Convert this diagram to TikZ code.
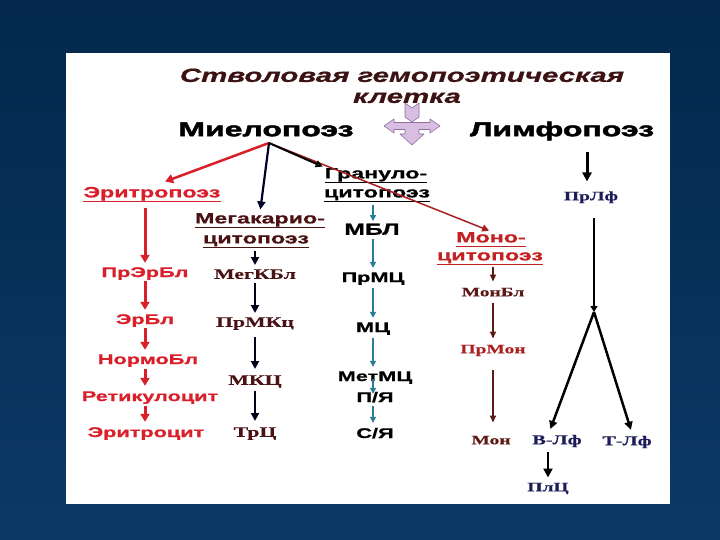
\documentclass[tikz,border=0pt]{standalone}
\usepackage{fontspec}
\setmainfont{Liberation Sans}
\newfontfamily\fhead[FakeStretch=1.6,FakeBold=2.2]{Liberation Sans}
\newfontfamily\fsans[FakeStretch=1.55,FakeBold=0.8]{Liberation Sans}
\newfontfamily\fserif[FakeStretch=1.5,FakeBold=0.5]{Liberation Serif}
\usetikzlibrary{arrows.meta}
\definecolor{bgtop}{HTML}{03284C}
\definecolor{bgbot}{HTML}{0B3966}
\definecolor{titlec}{HTML}{3D1212}
\definecolor{redc}{HTML}{D81F2A}
\definecolor{marc}{HTML}{4A1212}
\definecolor{tealc}{HTML}{2B7D96}
\definecolor{monoc}{HTML}{C42222}
\definecolor{monod}{HTML}{5C1A14}
\definecolor{monor}{HTML}{A82020}
\definecolor{navyc}{HTML}{1C1C58}
\definecolor{symfill}{HTML}{D8BFE2}
\definecolor{symline}{HTML}{8F6FA0}
\definecolor{greenc}{HTML}{1E6B2A}
\begin{document}
\begin{tikzpicture}[x=1pt,y=-1pt,
  lab/.style={inner sep=0pt, text depth=0pt},
  title/.style={lab, font=\fsans\bfseries\itshape\fontsize{19}{19}\selectfont, text height=13.7pt, text=titlec},
  head/.style={lab, font=\fhead\bfseries\fontsize{20}{20}\selectfont, text height=14.4pt},
  sub/.style={lab, font=\fsans\bfseries\fontsize{15}{15}\selectfont, text height=10.8pt},
  item/.style={lab, font=\fsans\bfseries\fontsize{14}{14}\selectfont, text height=10pt},
  bitem/.style={lab, font=\fsans\bfseries\fontsize{16}{16}\selectfont, text height=11.5pt},
  sitem/.style={lab, font=\fserif\bfseries\fontsize{14.5}{14.5}\selectfont, text height=9.6pt},
  litem/.style={lab, font=\fserif\bfseries\fontsize{13}{13}\selectfont, text height=8.6pt},
  ul/.style={append after command={([yshift=-4pt]\tikzlastnode.south west) edge[draw=#1, line width=1.4pt, -] ([yshift=-4pt]\tikzlastnode.south east)}},
  redarr/.style={draw=redc, line width=3pt, -{Triangle[width=9pt,length=8pt]}, shorten <=4pt, shorten >=4pt},
  megarr/.style={draw=black!90!blue, line width=2.5pt, -{Triangle[width=8pt,length=8pt]}, shorten <=4pt, shorten >=4pt},
  tealarr/.style={draw=tealc, line width=1.5pt, -{Triangle[width=6pt,length=6pt]}, shorten <=4pt, shorten >=4pt},
  monarr/.style={draw=monod, line width=1.5pt, -{Triangle[width=6pt,length=7pt]}, shorten <=4pt, shorten >=4pt},
  lymarr/.style={draw=black, line width=3pt, -{Triangle[width=9pt,length=9pt]}},
  sym/.style={fill=symfill, draw=symline, line width=0.6pt, line join=round}
]
\useasboundingbox (0,0) rectangle (720,540);
\shade[top color=bgtop, bottom color=bgbot] (0,0) rectangle (720,540);
\fill[white] (66,53) rectangle (670,504);

% title and headings
\node[title] (t1) at (402,75) {Стволовая гемопоэтическая};
\node[title] (t2) at (407,96) {клетка};
\node[head] (mie) at (266,129) {Миелопоэз};
\node[head] (lim) at (562,129) {Лимфопоэз};

% central symbol
\filldraw[sym] (405,103) -- (412,108) -- (419,103) -- (419,117) -- (412,122) -- (405,117) -- cycle;
\filldraw[sym] (384,126) -- (394,119) -- (394,122.5) -- (430,122.5) -- (430,119) -- (440,126)
  -- (430,133) -- (430,129.5) -- (419,129.5) -- (419,134) -- (424,134) -- (412,145)
  -- (400,134) -- (405,134) -- (405,129.5) -- (394,129.5) -- (394,133) -- cycle;

\coordinate (apex) at (269,143);

% sub-headings
\node[sub, text=redc, ul=redc] (ery) at (152,192) {Эритропоэз};
\node[sub, text=black, ul=black] (g1) at (376,173) {Грануло-};
\node[sub, text=black, ul=black] (g2) at (377,192) {цитопоэз};
\node[sub, text=marc, ul=marc] (meg1) at (260,218) {Мегакарио-};
\node[sub, text=marc, ul=marc] (meg2) at (256,238) {цитопоэз};
\node[sub, text=monoc, ul=monoc] (mo1) at (491,237) {Моно-};
\node[sub, text=monoc, ul=monoc] (mo2) at (490,255) {цитопоэз};

% branch connectors from myelopoiesis
\draw[draw=monor, line width=1.5pt, -{Triangle[width=7pt,length=7pt]}, shorten >=2pt] (apex) -- (mo1.north);
\draw[draw=redc, line width=2.5pt, -{Triangle[width=9pt,length=8pt]}, shorten >=14pt] (apex) -- (ery.north);
\draw[draw=black!85!blue, line width=2.2pt, -{Triangle[width=8pt,length=8pt]}, shorten >=3pt] (apex) -- (meg1.north);
\draw[draw=black, line width=2pt, -{Triangle[width=7pt,length=7pt,fill=greenc]}, shorten >=2pt] (apex) -- (g1.north west);

% erythropoiesis column
\node[item, text=redc] (e1) at (145,272) {ПрЭрБл};
\node[item, text=redc] (e2) at (145,319) {ЭрБл};
\node[item, text=redc] (e3) at (148,359) {НормоБл};
\node[item, text=redc] (e4) at (150,396) {Ретикулоцит};
\node[item, text=redc] (e5) at (146,432) {Эритроцит};
\draw[redarr, shorten <=10pt] (ery.south -| e1) -- (e1.north);
\draw[redarr] (e1.south) -- (e2.north);
\draw[redarr] (e2.south) -- (e3.north -| e2);
\draw[redarr, shorten <=5pt, shorten >=5pt] (e3.south -| e2) -- (e4.north -| e2);
\draw[redarr, shorten <=5pt, shorten >=5pt] (e4.south -| e2) -- (e5.north -| e2);

% megakaryocytopoiesis column
\node[sitem, text=marc] (m1) at (255,274) {МегКБл};
\node[sitem, text=marc] (m2) at (255,322) {ПрМКц};
\node[sitem, text=marc] (m3) at (255,380) {МКЦ};
\node[sitem, text=marc] (m4) at (255,432) {ТрЦ};
\draw[megarr, shorten <=7pt] (meg2.south -| m1) -- (m1.north);
\draw[megarr] (m1.south) -- (m2.north);
\draw[megarr, shorten <=10pt, shorten >=6pt] (m2.south) -- (m3.north);
\draw[megarr, shorten <=6pt, shorten >=6pt] (m3.south) -- (m4.north);

% granulocytopoiesis column
\node[bitem, text=black] (gb) at (372,229) {МБЛ};
\node[item, text=black] (gp) at (373,277) {ПрМЦ};
\node[item, text=black] (gm) at (373,327) {МЦ};
\node[item, text=black] (gmm) at (375,376) {МетМЦ};
\node[item, text=black] (gpy) at (375,397) {П/Я};
\node[item, text=black] (gsy) at (375,433) {С/Я};
\draw[tealarr, shorten <=7pt, shorten >=2pt] (g2.south -| gm) -- (gb.north -| gm);
\draw[tealarr] (gb.south -| gm) -- (gp.north -| gm);
\draw[tealarr, shorten <=6pt] (gp.south -| gm) -- (gm.north);
\draw[tealarr, shorten <=6pt] (gm.south) -- (gmm.north -| gm);
\draw[tealarr, shorten <=-2pt, shorten >=-2pt] (gmm.south -| gm) -- (gpy.north -| gm);
\draw[tealarr, shorten <=4pt, shorten >=5pt] (gpy.south -| gm) -- (gsy.north -| gm);

% monocytopoiesis column
\node[litem, text=monod] (mb) at (493,292) {МонБл};
\node[litem, text=monor] (mpr) at (493,349) {ПрМон};
\node[litem, text=monod] (mon) at (491,440) {Мон};
\draw[monarr, shorten <=6pt, shorten >=6pt] (mo2.south -| mb) -- (mb.north);
\draw[monarr, shorten <=6pt, shorten >=6pt] (mb.south) -- (mpr.north);
\draw[monarr, shorten <=16pt, shorten >=13pt] (mpr.south) -- (mon.north -| mpr);

% lymphopoiesis
\coordinate (lt) at (587,152);
\coordinate (split) at (594,312);
\node[litem, text=navyc] (lp) at (591,196) {ПрЛф};
\node[litem, text=navyc, font=\fserif\bfseries\fontsize{13.5}{13.5}\selectfont] (lb) at (557,440) {В-Лф};
\node[litem, text=navyc, font=\fserif\bfseries\fontsize{13.5}{13.5}\selectfont] (ltf) at (627,441) {Т-Лф};
\node[litem, text=navyc] (pl) at (548,487) {ПлЦ};
\draw[lymarr, shorten >=10pt] (lt) -- (lp.north -| lt);
\draw[black, line width=2.5pt, -{Triangle[width=7pt,length=6pt]}, shorten <=18pt] (lp.south -| split) -- (split);
\draw[black, line width=2.5pt, -{Triangle[width=8pt,length=8pt]}, shorten >=7pt] (split) -- ([xshift=-9pt]lb.north);
\draw[black, line width=2.5pt, -{Triangle[width=8pt,length=8pt]}, shorten >=7pt] (split) -- ([xshift=6pt]ltf.north);
\draw[lymarr, line width=2.5pt, shorten <=7pt, shorten >=5pt] (lb.south -| pl) -- (pl.north);
\end{tikzpicture}
\end{document}
